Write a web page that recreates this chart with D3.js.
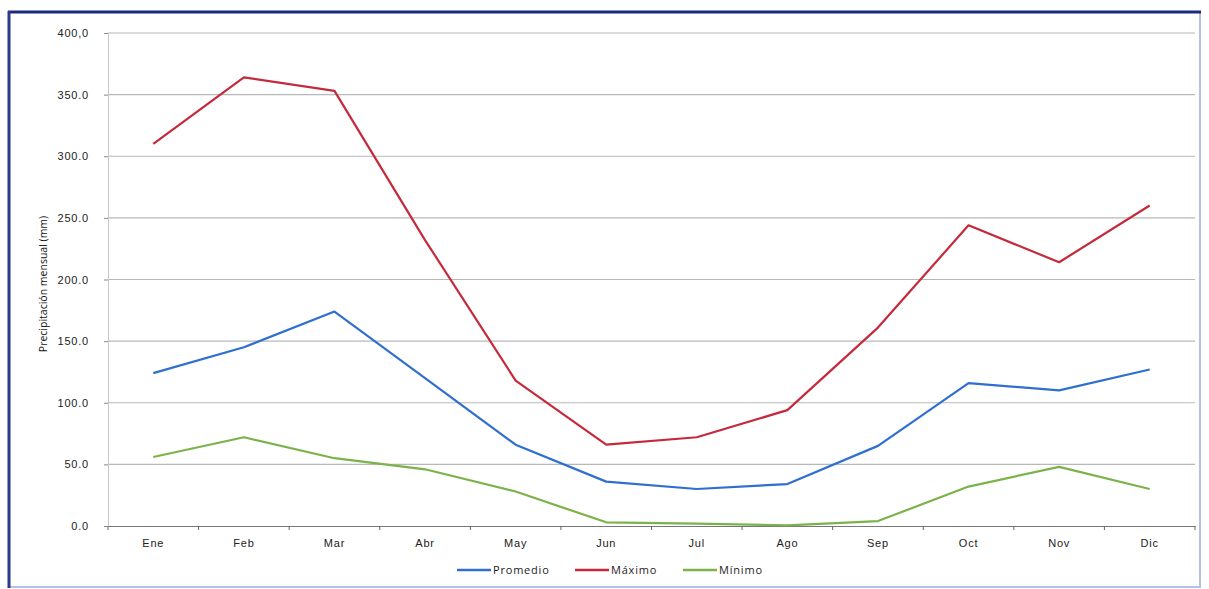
<!DOCTYPE html>
<html><head><meta charset="utf-8">
<script src="https://cdn.jsdelivr.net/npm/d3@7"></script>
<style>body{margin:0;background:#fff}svg{display:block;font-family:"Open Sans",sans-serif}</style>
</head><body><svg id="c" width="1209" height="589"></svg>
<script>
const months = ["Ene","Feb","Mar","Abr","May","Jun","Jul","Ago","Sep","Oct","Nov","Dic"];
const promedio = [124,145,174,120,66,36,30,34,65,116,110,127];
const maximo = [310,364,353,232,118,66,72,94,161,244,214,260];
const minimo = [56,72,55,46,28,3,2,0.5,4,32,48,30];
const yTicks = [0,50,100,150,200,250,300,350,400];
const yTickLabels = ["0.0","50.0","100.0","150.0","200.0","250.0","300.0","350.0","400,0"];
const seriesNames = ["Promedio","Máximo","Mínimo"];
const seriesColors = ["#2f6fce","#c42a3c","#7bb24a"];
const yTitle = "Precipitación mensual (mm)";

const svg = d3.select("#c");
// frame
svg.append("rect").attr("x",9).attr("y",12).attr("width",1191).attr("height",575)
  .attr("fill","none").attr("stroke","#b4c2e8").attr("stroke-width",2);
svg.append("line").attr("x1",8).attr("x2",1201).attr("y1",12).attr("y2",12).attr("stroke","#1c2a7a").attr("stroke-width",3);
svg.append("line").attr("x1",9).attr("x2",9).attr("y1",11).attr("y2",588).attr("stroke","#2a3a8c").attr("stroke-width",3);

const L=108,R=1195,T=33,B=526;
const x = d3.scaleBand().domain(months).range([L,R]);
const y = d3.scaleLinear().domain([0,400]).range([B,T]);

// gridlines
svg.append("g").selectAll("line").data(yTicks.filter(d=>d>0)).join("line")
  .attr("x1",L).attr("x2",R).attr("y1",d=>y(d)).attr("y2",d=>y(d))
  .attr("stroke","#b8b8b8").attr("stroke-width",1.2);

// y axis
const ya = svg.append("g").attr("transform",`translate(${L},0)`)
  .call(d3.axisLeft(y).tickValues(yTicks).tickSize(4).tickFormat((d,i)=>yTickLabels[i]));
ya.select(".domain").attr("stroke","#c8c8c8");
ya.selectAll(".tick line").attr("stroke","#888");
ya.selectAll("text").attr("font-size",11).attr("fill","#222").attr("letter-spacing",0.8).attr("dx",-12);

// x axis
const xa = svg.append("g").attr("transform",`translate(0,${B})`)
  .call(d3.axisBottom(x).tickSize(0).tickPadding(13));
xa.select(".domain").attr("stroke","#777").attr("stroke-width",1.2);
xa.selectAll("text").attr("font-size",11).attr("fill","#222").attr("letter-spacing",0.8);
svg.append("g").selectAll("line").data(months).join("line")
  .attr("x1",d=>x(d)).attr("x2",d=>x(d)).attr("y1",B).attr("y2",B+4).attr("stroke","#666");
svg.append("line").attr("x1",R).attr("x2",R).attr("y1",B).attr("y2",B+4).attr("stroke","#666");

// y title
svg.append("text").attr("transform",`translate(47,284) rotate(-90)`)
  .attr("text-anchor","middle").attr("font-size",10.5).attr("fill","#111").text(yTitle);

// lines
const line = d3.line().x((d,i)=>x(months[i])+x.bandwidth()/2).y(d=>y(d));
[promedio,maximo,minimo].forEach((s,i)=>{
  svg.append("path").datum(s).attr("d",line).attr("fill","none")
    .attr("stroke",seriesColors[i]).attr("stroke-width",2.2).attr("stroke-linejoin","round");
});

// legend
const legX=[457,575,683];
seriesNames.forEach((n,i)=>{
  const g=svg.append("g").attr("transform",`translate(${legX[i]},570)`);
  g.append("line").attr("x1",0).attr("x2",34).attr("stroke",seriesColors[i]).attr("stroke-width",2.5);
  g.append("text").attr("x",36).attr("y",4).attr("font-size",11).attr("fill","#222")
    .attr("letter-spacing",0.8).text(n);
});
</script></body></html>
